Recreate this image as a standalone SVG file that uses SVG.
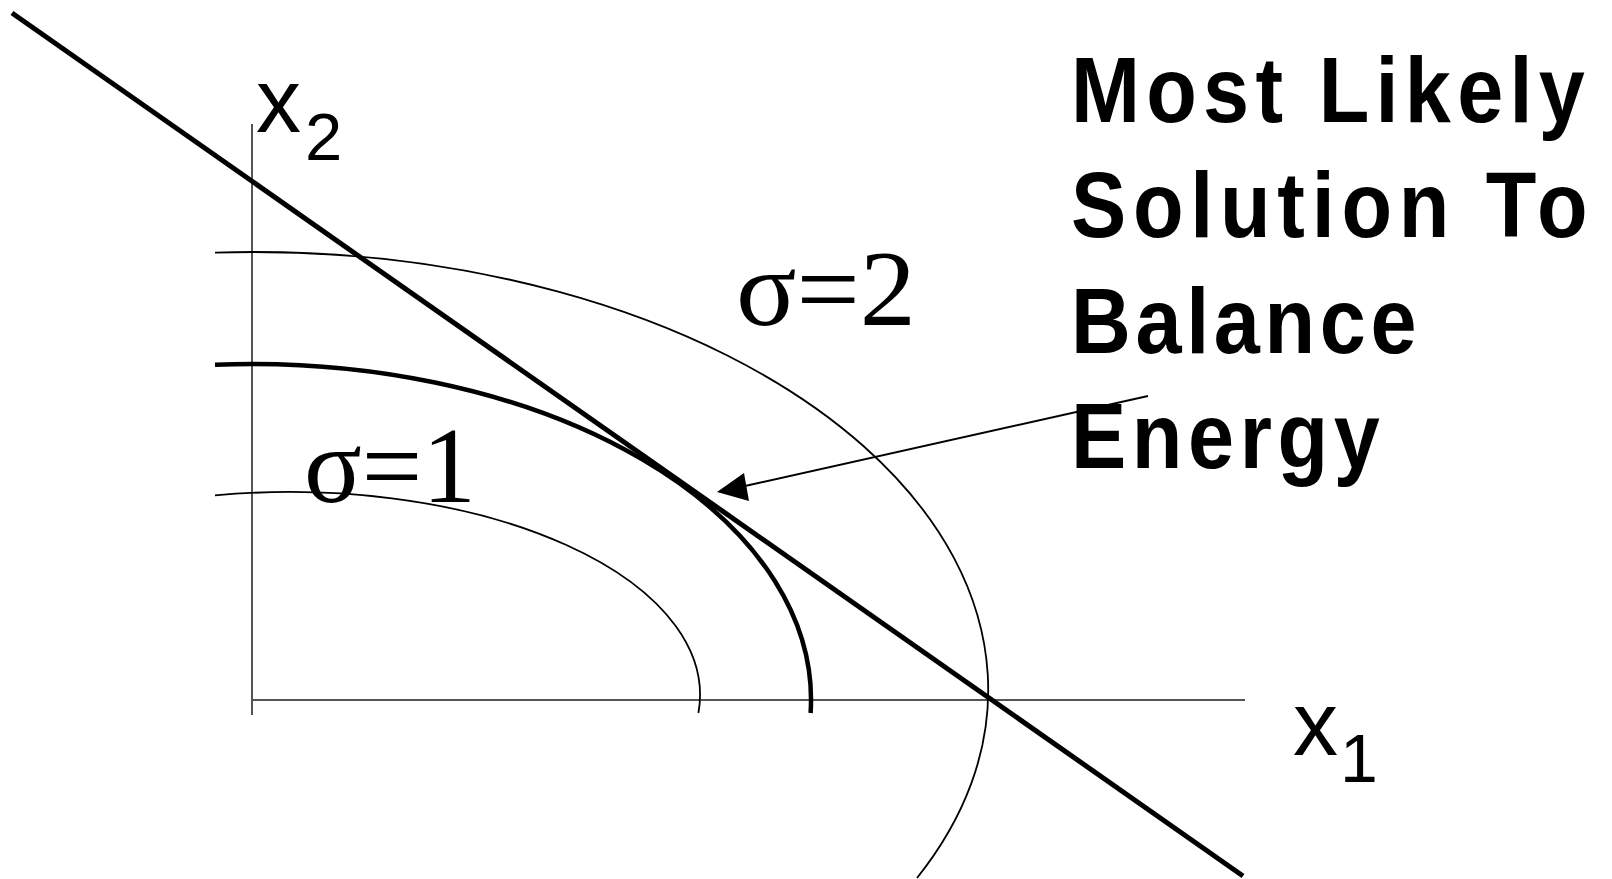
<svg xmlns="http://www.w3.org/2000/svg" width="1612" height="879" viewBox="0 0 1612 879">
  <style>
    .axis { stroke: #555; stroke-width: 2; fill: none; }
    .thin { stroke: #000; stroke-width: 1.8; fill: none; }
    .thick { stroke: #000; stroke-width: 4.5; fill: none; }
    .bold-line { stroke: #000; stroke-width: 5; fill: none; }
    .arrow { stroke: #000; stroke-width: 2; fill: none; }
    .sigma { font-family: "Liberation Serif", "Times New Roman", serif; font-size: 107px; fill: #000; }
    .axislbl { font-family: "Liberation Sans", Arial, sans-serif; fill: #000; }
    .title { font-family: "Liberation Sans", Arial, sans-serif; font-weight: bold; font-size: 92px; fill: #000; }
  </style>
  <rect width="1612" height="879" fill="#fff"/>

  <g id="axes">
    <line class="axis" x1="252" y1="124" x2="252" y2="715"/>
    <line class="axis" x1="252" y1="700" x2="1245" y2="700"/>
  </g>

  <g id="contour-sigma2">
    <path class="thin" d="M215,252.6 A736,438 0 0 1 917,878"/>
  </g>
  <g id="contour-mid">
    <path class="thick" d="M215,364.7 A559,336 0 0 1 810.6,713"/>
  </g>
  <g id="contour-sigma1">
    <path class="thin" d="M215,495.4 A410,203 0 0 1 698.4,713"/>
  </g>

  <g id="constraint-line">
    <line class="bold-line" x1="12" y1="13" x2="1243" y2="876"/>
  </g>

  <g id="connectors">
    <line class="arrow" x1="1148" y1="396" x2="745" y2="486"/>
    <polygon points="717,492 744,473 749,501" fill="#000"/>
  </g>

  <g id="label-x2">
    <text class="axislbl" x="256" y="132" font-size="90">x</text>
    <text class="axislbl" x="305" y="160" font-size="67">2</text>
  </g>
  <g id="label-x1">
    <text class="axislbl" x="1293" y="755" font-size="90">x</text>
    <text class="axislbl" x="1340" y="782" font-size="68">1</text>
  </g>

  <g id="label-sigma2">
    <text class="sigma" x="736" y="325" textLength="180" lengthAdjust="spacingAndGlyphs">σ=2</text>
  </g>
  <g id="label-sigma1">
    <text class="sigma" x="304" y="502" textLength="172" lengthAdjust="spacingAndGlyphs">σ=1</text>
  </g>

  <g id="title">
    <text class="title" transform="translate(1071,122) scale(0.9,1)" x="0" y="0" textLength="571" lengthAdjust="spacing">Most Likely</text>
    <text class="title" transform="translate(1071,237) scale(0.9,1)" x="0" y="0" textLength="574" lengthAdjust="spacing">Solution To</text>
    <text class="title" transform="translate(1071,353) scale(0.9,1)" x="0" y="0" textLength="384" lengthAdjust="spacing">Balance</text>
    <text class="title" transform="translate(1071,468) scale(0.9,1)" x="0" y="0" textLength="343" lengthAdjust="spacing">Energy</text>
  </g>
</svg>
